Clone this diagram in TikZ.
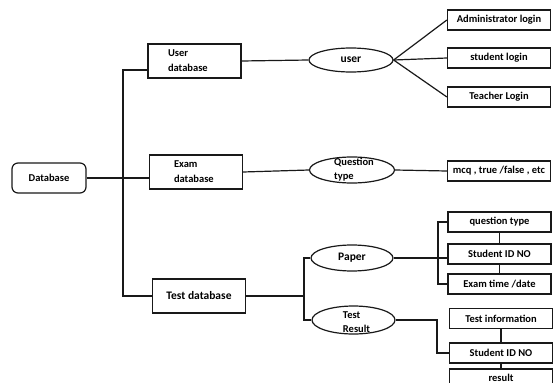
\documentclass[tikz,border=0pt]{standalone}
\usepackage{fontspec}
\setmainfont{Carlito}
\usetikzlibrary{shapes.geometric}
\tikzset{
	box/.style={draw=black!90, line width=1.2pt, rectangle, inner sep=2pt, font=\bfseries\fontsize{10.5}{15}\selectfont},
	dbbox/.style={box, rounded corners=6pt, minimum width=74pt, minimum height=30pt},
	group/.style={box, minimum width=93pt, minimum height=34pt},
	leaf/.style={box, minimum width=103pt, minimum height=20pt},
	oval/.style={draw=black!90, line width=1.2pt, ellipse, minimum width=84pt, minimum height=24pt, inner sep=0pt, font=\bfseries\fontsize{11.5}{14}\selectfont},
	ovaltext/.style={align=left, inner sep=0pt, font=\bfseries\fontsize{10.5}{14}\selectfont},
	wire/.style={draw=black!90, line width=1.2pt},
}

\begin{document}
\begin{tikzpicture}[x=1pt, y=-1pt]
			%%%%% START %%%%%
			\useasboundingbox (0, 0) rectangle (555, 383);
			
			\node[dbbox] (db) at (49, 178) {Database};
			
			\node[group, text width=53pt, align=left] (userdb) at (194.5, 61) {User\\database};
			\node[group, text width=44pt, align=left] (examdb) at (196, 172) {Exam\\database};
			\node[group, font=\bfseries\fontsize{11.5}{14}\selectfont] (testdb) at (199, 296) {Test database};
			
			\node[oval] (user) at (351, 60) {user};
			\node[oval, minimum width=85pt, minimum height=26pt] (qtype) at (352, 170) {};
			\node[ovaltext] (qtypetext) at ([xshift=2pt]qtype) {Question\\type};
			\node[oval, minimum width=82pt, minimum height=26pt] (paper) at (352, 258) {Paper};
			\node[oval, minimum width=83pt, minimum height=28pt] (result) at (353.5, 320) {};
			\node[ovaltext] (resulttext) at ([xshift=3pt, yshift=-2pt]result) {Test\\Result};
			
			\node[leaf] (admin) at (499, 20) {Administrator login};
			\node[leaf] (student) at (499, 58) {student login};
			\node[leaf] (teacher) at (499, 97) {Teacher Login};
			\node[leaf] (mcq) at (499, 171) {mcq , true /false , etc};
			
			\node[leaf] (qtypebox) at (499.5, 222) {question type};
			\node[leaf] (sidbox) at (499.5, 254) {Student ID NO};
			\node[leaf] (exambox) at (499.5, 284) {Exam time /date};
			
			\node[leaf] (testinfo) at (501, 318.5) {Test information};
			\node[leaf] (sidboxtwo) at (501, 353) {Student ID NO};
			\node[leaf, minimum height=18pt] (resultbox) at (501, 378) {result};
			
			% database trunk
			\coordinate (trunk) at (123, 178);
			\draw[wire] (db.east) -- (db.east -| examdb.west);
			\draw[wire] ([yshift=-9pt]userdb.west) -| (trunk) |- (testdb.west);
			
			% user branch
			\draw[wire] (userdb.east) -- (user.west);
			\draw[wire] (user.east) -- (admin.west);
			\draw[wire] (user.east) -- (student.west);
			\draw[wire] (user.east) -- (teacher.west);
			
			% exam branch
			\draw[wire] (examdb.east) -- (qtype.west);
			\draw[wire] (qtype.east) -- (mcq.west);
			
			% test branch
			\coordinate (split) at (304, 296);
			\draw[wire] (testdb.east) -- (split);
			\draw[wire] (paper.west) -| (split) |- (result.west);
			
			\coordinate (pbus) at (438, 258);
			\draw[wire] (paper.east) -- (pbus -| sidbox.west);
			\draw[wire] (qtypebox.west) -| (pbus) |- (exambox.west);
			\draw[wire] (qtypebox) -- (sidbox);
			\draw[wire] (sidbox) -- (exambox);
			
			\coordinate (rbend) at (437, 356);
			\draw[wire] (result.east) -- (result.east -| rbend) |- (sidboxtwo.west);
			\draw[wire] (testinfo) -- (sidboxtwo);
			\draw[wire] (sidboxtwo) -- (resultbox);
			%%%%% END %%%%%
\end{tikzpicture}
\end{document}
